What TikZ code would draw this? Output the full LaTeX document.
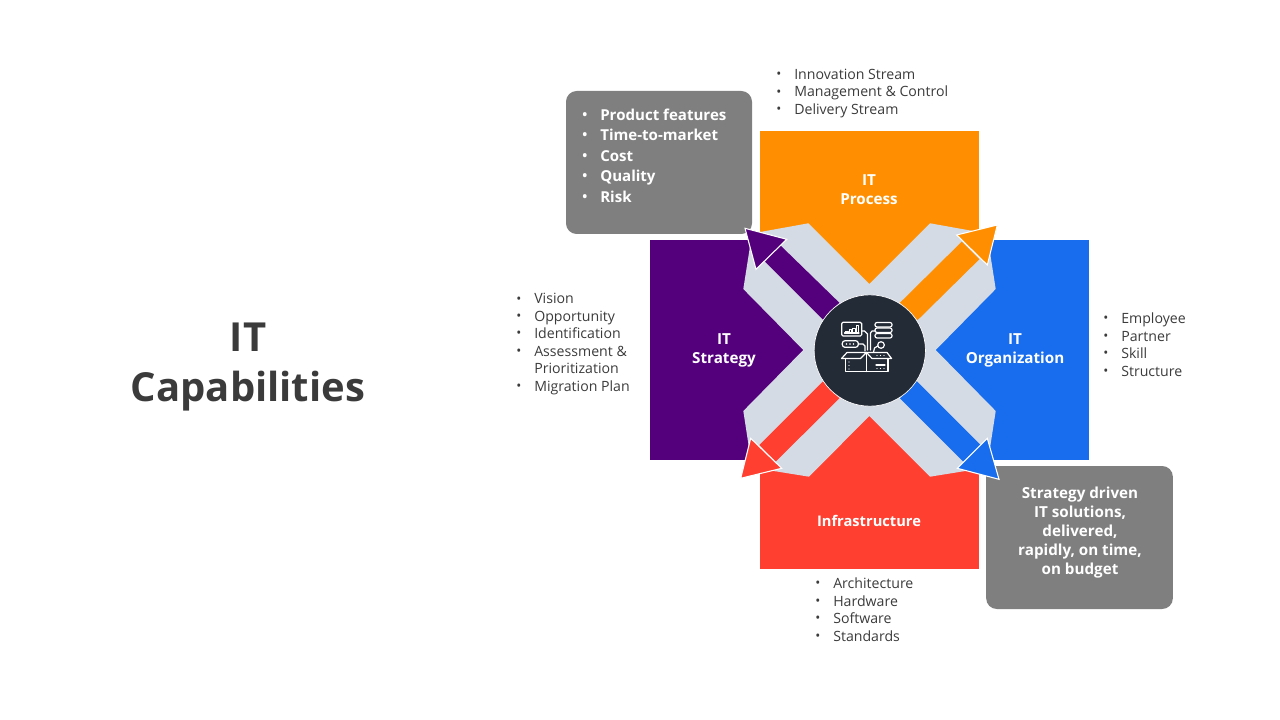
\documentclass[tikz,border=0pt]{standalone}
\usepackage{fontspec}
\setmainfont{Open Sans}
\usetikzlibrary{positioning,calc}
\definecolor{procorange}{RGB}{255,143,0}
\definecolor{orgblue}{RGB}{24,109,238}
\definecolor{infrared}{RGB}{255,63,48}
\definecolor{stratpurple}{RGB}{84,0,124}
\definecolor{crossgray}{RGB}{213,219,229}
\definecolor{hubdark}{RGB}{35,43,55}
\definecolor{notegray}{RGB}{127,127,127}
\definecolor{textdark}{RGB}{59,59,59}
\newcommand{\itm}{\makebox[13.5pt][l]{\raisebox{0.6pt}{\fontsize{10}{10}\selectfont •}}}
\newcommand{\itmgap}{\hspace*{13.5pt}}

\begin{document}
\begin{tikzpicture}[
 x=0.75pt, y=-0.75pt,
 wideblock/.style={rectangle, minimum width=164.25pt, minimum height=119.25pt, inner sep=0pt},
 tallblock/.style={rectangle, minimum width=120pt, minimum height=165pt, inner sep=0pt},
 blocklabel/.style={align=center, text=white, inner sep=0pt, font=\fontsize{11.4}{14.3}\selectfont\bfseries},
 bullets/.style={anchor=west, align=left, text=textdark, inner sep=0pt, font=\fontsize{10.6}{13.1}\selectfont},
 notebox/.style={rectangle, rounded corners=8pt, fill=notegray, minimum width=140pt, minimum height=107.25pt, inner sep=0pt},
 head/.style={draw=white, line width=0.8pt, line join=miter},
 icon/.style={draw=white, line width=0.9pt, line join=round, line cap=round}
]
\useasboundingbox (0,0) rectangle (1280,720);

% Title
\node[align=center, text=textdark, inner sep=0pt, font=\fontsize{30}{38.2}\selectfont\bfseries] (title) at (248,367) {IT\\Capabilities};

% Coloured blocks
\node[wideblock, fill=procorange] (process) at (869.5,210.5) {};
\node[tallblock, fill=orgblue] (organization) at (1009,350) {};
\node[wideblock, fill=infrared] (infra) at (869.5,489.5) {};
\node[tallblock, fill=stratpurple] (strategy) at (730,350) {};

% Note boxes
\node[notebox, minimum width=139.5pt] (noteA) at (659,162.5) {};
\node[notebox] (noteB) at (1079.5,537.5) {};

% Grey cross
\fill[crossgray] (808.3,223.3) -- (869.3,284) -- (930,223.3) -- (987,233.5) -- (995.7,289)
 -- (935.7,350) -- (995.7,411) -- (987,467.5) -- (930,476.7) -- (869.3,416) -- (809,476.7)
 -- (752,467.5) -- (743.3,411) -- (803.3,350) -- (743.3,289) -- (752,233.5) -- cycle;

% Arrows
\fill[stratpurple] (839.3,302.7) -- (780,245) -- (765,261.7) -- (823.3,320) -- cycle;
\filldraw[head, fill=stratpurple] (745,228.3) -- (786.7,239.3) -- (756,269.3) -- cycle;
\fill[procorange] (900,302.7) -- (961.7,241.7) -- (979.3,259.3) -- (917.7,320) -- cycle;
\filldraw[head, fill=procorange] (997.3,225) -- (956.7,235) -- (987.3,265) -- cycle;
\fill[infrared] (839.3,398.3) -- (775.7,461.7) -- (759.3,445) -- (823.3,381) -- cycle;
\filldraw[head, fill=infrared] (740.7,478.3) -- (750.7,438.3) -- (781.7,468.3) -- cycle;
\fill[orgblue] (900,398.3) -- (963.3,461.7) -- (980.7,445) -- (916.7,381) -- cycle;
\filldraw[head, fill=orgblue] (999,479.3) -- (987.3,438.3) -- (957.3,468.3) -- cycle;

% Hub
\node[circle, fill=hubdark, draw=white, line width=0.5pt, minimum size=83.5pt, inner sep=0pt] (hub) at (869.8,350.5) {};

% Hub icon
\draw[icon, rounded corners=1pt] (841.7,322.3) rectangle (861.7,336);
\draw[icon] (844.5,333) -- (859,333);
\foreach \bx/\bh in {845.5/2, 849/3.5, 852.5/5, 856/7.5}
 \draw[icon, line width=0.6pt] (\bx,333) rectangle ++(2.5,-\bh);
\foreach \py in {322.5, 328, 333.5}
 \draw[icon, rounded corners=1.5pt] (875,\py) rectangle (892,\py+4.5);
\draw[icon, rounded corners=2pt] (842.3,340.7) rectangle (858.3,347.3);
\foreach \dx in {846.5, 850, 853.5}
 \fill[white] (\dx,344) circle (0.8);
\draw[icon] (881,345) circle (3.3);
\draw[icon] (861.7,331) -- (864.5,331) -- (867.5,334) -- (867.5,350);
\draw[icon] (875,331) -- (872,331) -- (870.5,333) -- (870.5,350);
\draw[icon] (858.3,344) -- (863,344) -- (865,346) -- (865,351);
\draw[icon] (877.7,346) -- (874.5,348) -- (873.5,352);
\draw[icon] (866.5,352.5) -- (847,352.5) -- (841.5,358.5) -- (860.5,358.5) -- cycle;
\draw[icon] (866.5,352.5) -- (887,352.5) -- (891.5,358.5) -- (872,358.5) -- cycle;
\draw[icon] (845.5,358.5) -- (845.5,371.5) -- (888,371.5) -- (888,358.5);
\draw[icon] (866.5,352.5) -- (866.5,371.5);
\draw[icon] (876,365) -- (885,365);
\foreach \dx in {877, 880.5, 884} {
 \fill[white] (\dx,355.5) circle (0.7);
 \fill[white] (\dx,368.5) circle (0.7);
}
\foreach \dy in {362, 365.5, 369}
 \fill[white] (849,\dy) circle (0.7);

% Block labels
\node[blocklabel] (processtxt) at (869,190) {IT\\Process};
\node[blocklabel] (orgtxt) at (1015,350) {IT\\Organization};
\node[blocklabel, font=\fontsize{11}{14.3}\selectfont\bfseries] (infratxt) at (869,520.5) {Infrastructure};
\node[blocklabel] (strattxt) at (724,350) {IT\\Strategy};

% Lists
\node[bullets] (listprocess) at (776,93.5) {\itm Innovation Stream\\\itm Management \& Control\\\itm Delivery Stream};
\node[bullets] (liststrategy) at (516,344) {\itm Vision\\\itm Opportunity\\\itm Identification\\\itm Assessment \&\\\itmgap Prioritization\\\itm Migration Plan};
\node[bullets] (listorg) at (1103,344.5) {\itm Employee\\\itm Partner\\\itm Skill\\\itm Structure};
\node[bullets] (listinfra) at (815,609.5) {\itm Architecture\\\itm Hardware\\\itm Software\\\itm Standards};

% Note texts
\node[anchor=west, align=left, text=white, inner sep=0pt, font=\fontsize{11.3}{15.4}\selectfont\bfseries] (noteAtxt) at (582,155.5) {\itm Product features\\\itm Time-to-market\\\itm Cost\\\itm Quality\\\itm Risk};
\node[blocklabel] (noteBtxt) at (1080,532.5) {Strategy driven\\IT solutions,\\delivered,\\rapidly, on time,\\on budget};

\end{tikzpicture}
\end{document}
